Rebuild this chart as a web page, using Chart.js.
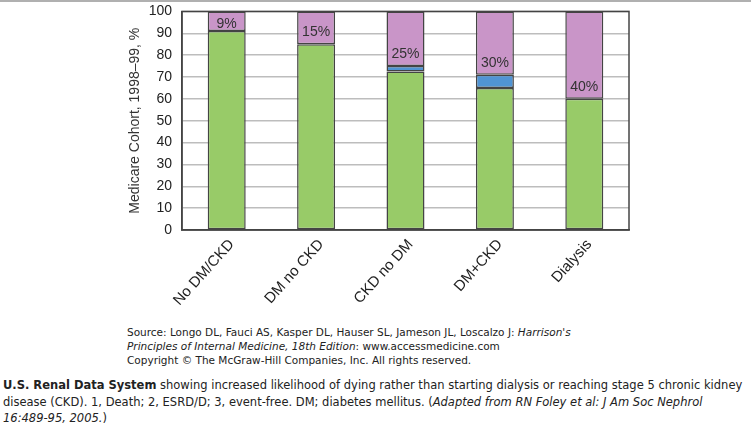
<!DOCTYPE html>
<html>
<head>
<meta charset="utf-8">
<script src="https://cdn.jsdelivr.net/npm/chart.js@4"></script>
<style>
  body { margin: 0; background: #fff; width: 751px; height: 428px; position: relative; overflow: hidden; }
  .topline { position: absolute; left: 0; top: 0; width: 751px; height: 2px; background: #b0b0b0; }
  .wrap { position: absolute; left: 0; top: -7px; width: 751px; height: 322px; }
  .src { position: absolute; left: 127px; font-family: "DejaVu Sans", sans-serif; font-size: 10.5px; color: #222; line-height: 14px; }
  .cap { position: absolute; left: 3px; top: 377px; font-family: "DejaVu Sans", sans-serif; font-size: 11.5px; color: #222; line-height: 16.5px; }
</style>
</head>
<body>
<div class="wrap"><canvas id="RenalChart"></canvas></div>
<div class="topline"></div>
<div class="src" style="top: 325px;">Source: Longo DL, Fauci AS, Kasper DL, Hauser SL, Jameson JL, Loscalzo J: <i>Harrison's</i><br><i>Principles of Internal Medicine, 18th Edition</i>: www.accessmedicine.com</div>
<div class="src" style="top: 353px;">Copyright © The McGraw-Hill Companies, Inc. All rights reserved.</div>
<div class="cap"><b>U.S. Renal Data System</b> showing increased likelihood of dying rather than starting dialysis or reaching stage 5 chronic kidney<br>disease (CKD). 1, Death; 2, ESRD/D; 3, event-free. DM; diabetes mellitus. (<i>Adapted from RN Foley et al: J Am Soc Nephrol</i><br><i>16:489-95, 2005.</i>)</div>
<script>
const categories = ['No DM/CKD', 'DM no CKD', 'CKD no DM', 'DM+CKD', 'Dialysis'];
const eventFree = [91, 85, 72.5, 65, 60];
const esrd = [null, null, 2.5, 6, null];
const death = [9, 15, 25, 29, 40];
const deathLabels = ['9%', '15%', '25%', '30%', '40%'];
const yTicks = [0, 10, 20, 30, 40, 50, 60, 70, 80, 90, 100];

const font = 'Liberation Sans, Arial, sans-serif';

// frame round the plot and the % labels in the purple part
const framePlugin = {
  id: 'frame',
  afterDatasetsDraw(chart) {
    const ctx = chart.ctx;
    const a = chart.chartArea;
    ctx.save();
    ctx.strokeStyle = '#444';
    ctx.lineWidth = 1.5;
    ctx.strokeRect(a.left, a.top, a.right - a.left, a.bottom - a.top);

    const meta = chart.getDatasetMeta(2);
    ctx.font = '14px ' + font;
    ctx.fillStyle = '#333';
    ctx.textAlign = 'center';
    ctx.textBaseline = 'middle';
    meta.data.forEach((bar, i) => {
      let y = bar.base - 12;
      if (y < bar.y + 13) y = bar.y + 13;
      ctx.fillText(deathLabels[i], bar.x, y);
    });
    ctx.restore();
  }
};

const barStyle = {
  borderColor: '#444',
  borderWidth: 1.5,
  borderSkipped: false,
  barPercentage: 0.425,
  categoryPercentage: 1,
};

new Chart(document.getElementById('RenalChart').getContext('2d'), {
  type: 'bar',
  data: {
    labels: categories,
    datasets: [
      { label: 'Event-free', data: eventFree, backgroundColor: '#98cb68', ...barStyle },
      { label: 'ESRD/D', data: esrd, backgroundColor: '#5094d4', ...barStyle },
      { label: 'Death', data: death, backgroundColor: '#c995c8', ...barStyle },
    ],
  },
  options: {
    responsive: true,
    maintainAspectRatio: false,
    animation: false,
    layout: { padding: { top: 4, right: 122, left: 121, bottom: 0 } },
    plugins: { legend: { display: false }, tooltip: { enabled: false } },
    scales: {
      x: {
        stacked: true,
        grid: { display: false, drawTicks: false },
        border: { color: '#444', width: 1.5 },
        ticks: {
          color: '#222',
          font: { family: font, size: 15 },
          minRotation: 48,
          maxRotation: 48,
          padding: 6,
          labelOffset: 5,
        },
        afterFit(scale) { scale.height = 85; },
      },
      y: {
        stacked: true,
        min: 0,
        max: 100,
        afterBuildTicks(scale) { scale.ticks = yTicks.map(v => ({ value: v })); },
        grid: { color: '#bdbdbd', lineWidth: 1.5, drawTicks: false },
        border: { color: '#444', width: 1.5 },
        ticks: {
          color: '#222',
          font: { family: font, size: 14 },
          padding: 10,
        },
        title: {
          display: true,
          text: 'Medicare Cohort, 1998–99, %',
          color: '#333',
          font: { family: font, size: 14 },
          padding: { top: 6, bottom: 4 },
        },
        afterFit(scale) { scale.width = 61; },
      },
    },
  },
  plugins: [framePlugin],
});
</script>
</body>
</html>
